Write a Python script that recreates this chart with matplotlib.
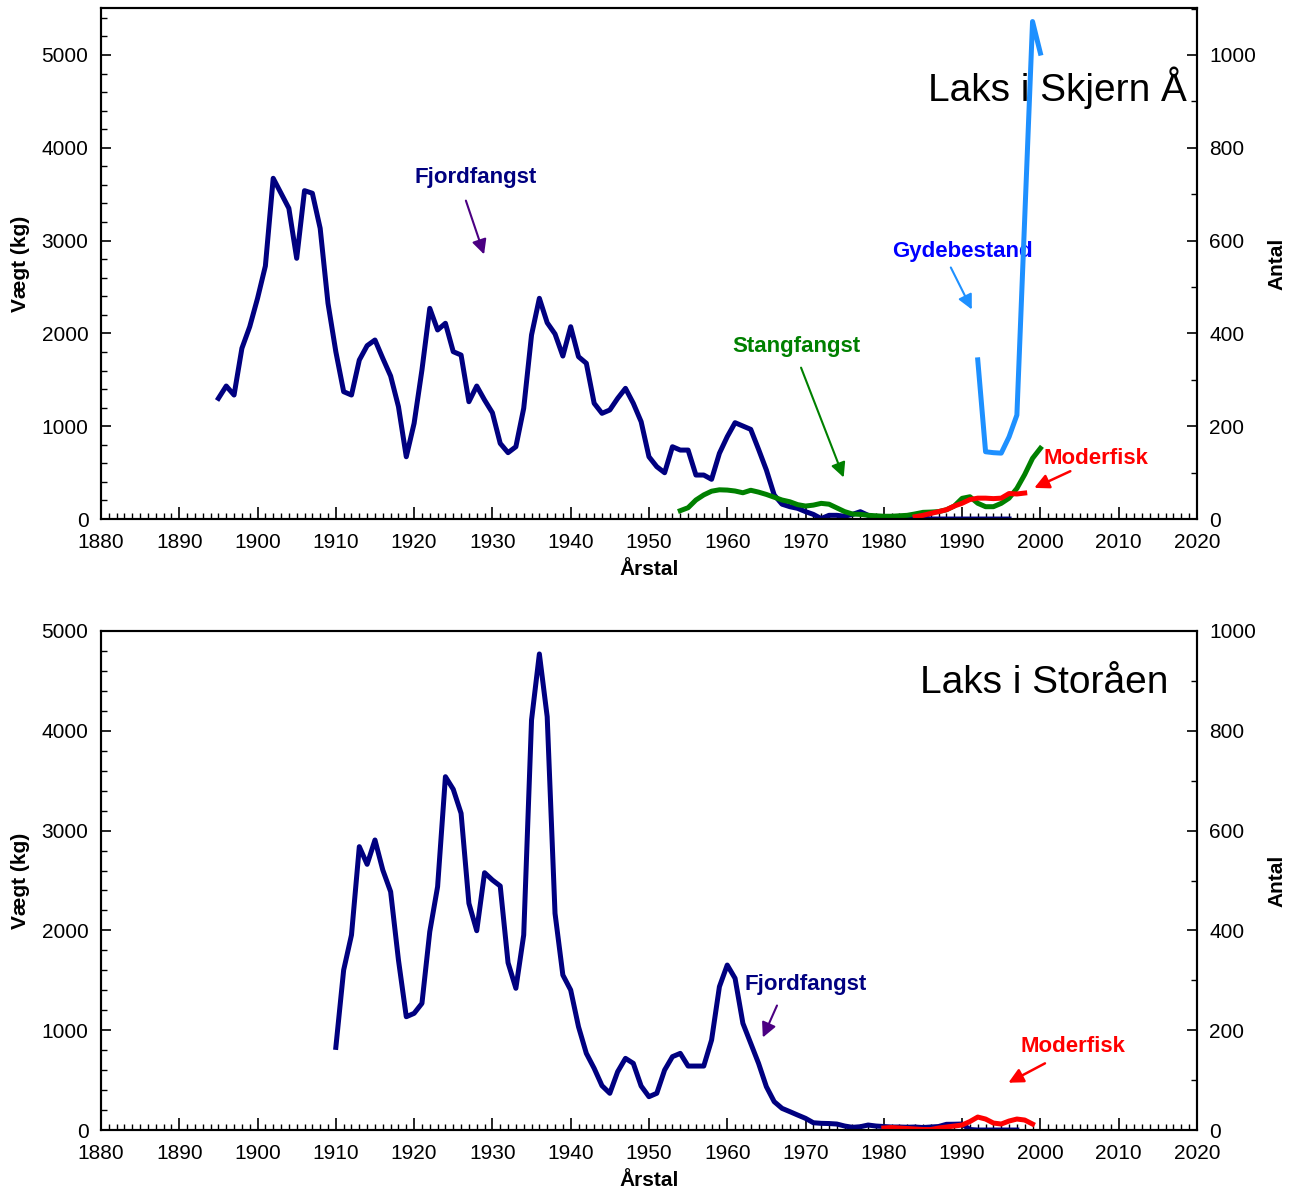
import numpy as np
import matplotlib
matplotlib.use("Agg")
import matplotlib.pyplot as plt
from matplotlib.ticker import MultipleLocator

plt.rcParams['font.family'] = ['Liberation Sans', 'DejaVu Sans']

# --- Skjern Å (top panel) ---
skj_fjord_years = list(range(1895, 1997))
skj_fjord_kg = [1300, 1433, 1336, 1839, 2072, 2378, 2726, 3671, 3510, 3348,
                2809, 3538, 3510, 3132, 2324, 1803, 1372, 1336, 1713, 1868,
                1929, 1731, 1541, 1211, 671, 1031, 1606, 2270, 2037, 2109,
                1803, 1767, 1264, 1433, 1282, 1145, 815, 715, 779, 1193,
                1983, 2378, 2115, 1994, 1756, 2072, 1749, 1678, 1247, 1139,
                1175, 1300, 1408, 1247, 1049, 671, 564, 499, 779, 743,
                743, 474, 474, 428, 708, 887, 1038, 1002, 966, 751,
                528, 259, 160, 133, 115, 80, 50, 5, 40, 40,
                30, 50, 79, 40, 20, 5, 5, 5, 25, 30,
                15, 0, 0, 0, 0, 0, 0, 0, 0, 0,
                0, 0]

skj_stang_years = list(range(1954, 2001))
skj_stang_kg = [90, 122, 205, 260, 300, 315, 312, 302, 283, 310,
                290, 265, 235, 205, 186, 155, 140, 150, 169, 160,
                120, 80, 54, 50, 40, 35, 30, 30, 35, 40,
                55, 72, 75, 80, 100, 140, 223, 240, 170, 133,
                133, 169, 225, 330, 480, 654, 762]

skj_gyde_years = [1992, 1993, 1994, 1995, 1996, 1997, 1998, 1999, 2000]
skj_gyde_antal = [343, 145, 143, 142, 177, 224, 648, 1072, 1004]

skj_moder_years = list(range(1984, 1999))
skj_moder_antal = [5, 8, 12, 16, 20, 28, 34, 42, 45, 45, 44, 45, 55, 54, 56]

# --- Storåen (bottom panel) ---
sto_fjord_years = list(range(1910, 1998))
sto_fjord_kg = [828, 1603, 1954, 2839, 2662, 2906, 2605, 2388, 1703, 1135,
                1169, 1269, 1987, 2438, 3540, 3414, 3173, 2271, 1997, 2578,
                2505, 2445, 1676, 1420, 1954, 4108, 4770, 4141, 2171, 1553,
                1403, 1035, 768, 618, 444, 368, 584, 718, 668, 441,
                334, 368, 601, 735, 768, 641, 641, 641, 902, 1436,
                1653, 1520, 1069, 869, 668, 434, 284, 217, 184, 150,
                117, 73, 67, 65, 60, 40, 27, 33, 50, 40,
                35, 30, 30, 28, 30, 25, 30, 35, 57, 58,
                60, 5, 0, 0, 0, 0, 0, 0]

sto_moder_years = list(range(1980, 2000))
sto_moder_antal = [4, 5, 4, 3, 2, 1, 1, 4, 6, 8,
                   10, 17, 26, 22, 14, 12, 18, 22, 20, 12]

NAVY = '#000080'
GREEN = '#008000'
LIGHTBLUE = '#1E90FF'
RED = '#FF0000'
INDIGO = '#4B0082'
LW = 3.6
FS = 15
AFS = 16  # annotation font size

fig = plt.figure(figsize=(13.03, 11.91), dpi=100)
ax_top = fig.add_axes([0.0775, 0.5642, 0.8411, 0.4291])
ax_bot = fig.add_axes([0.0775, 0.0512, 0.8411, 0.4190])


def style_axes(ax, ax2, ymax_kg, ymax_antal):
    ax.set_xlim(1880, 2020)
    ax.set_ylim(0, ymax_kg)
    ax2.set_ylim(0, ymax_antal)
    ax.xaxis.set_major_locator(MultipleLocator(10))
    ax.xaxis.set_minor_locator(MultipleLocator(1))
    ax.yaxis.set_major_locator(MultipleLocator(1000))
    ax.yaxis.set_minor_locator(MultipleLocator(200))
    ax2.yaxis.set_major_locator(MultipleLocator(200))
    ax2.yaxis.set_minor_locator(MultipleLocator(100))
    ax.tick_params(axis='x', which='major', direction='in', length=9, width=1.2,
                   labelsize=FS, pad=10, top=False)
    ax.tick_params(axis='x', which='minor', direction='in', length=4.5, width=1.0, top=False)
    ax.tick_params(axis='y', which='major', direction='in', length=7, width=1.2,
                   labelsize=FS, pad=9, right=False)
    ax.tick_params(axis='y', which='minor', direction='in', length=4.5, width=1.0, right=False)
    ax2.tick_params(axis='y', which='major', direction='in', length=7, width=1.2,
                    labelsize=FS, pad=9)
    ax2.tick_params(axis='y', which='minor', direction='in', length=4, width=1.0)
    for a in (ax, ax2):
        for s in a.spines.values():
            s.set_linewidth(1.5)
    ax.set_xlabel('Årstal', fontsize=FS, fontweight='bold', labelpad=6)
    ax.set_ylabel('Vægt (kg)', fontsize=FS, fontweight='bold', labelpad=8)
    ax2.set_ylabel('Antal', fontsize=FS, fontweight='bold', labelpad=8)


# top panel
ax2_top = ax_top.twinx()
ax_top.plot(skj_fjord_years, skj_fjord_kg, color=NAVY, lw=LW, solid_joinstyle='round')
ax_top.plot(skj_stang_years, skj_stang_kg, color=GREEN, lw=LW, solid_joinstyle='round')
ax2_top.plot(skj_gyde_years, skj_gyde_antal, color=LIGHTBLUE, lw=LW, solid_joinstyle='round')
ax2_top.plot(skj_moder_years, skj_moder_antal, color=RED, lw=LW, solid_joinstyle='round')
style_axes(ax_top, ax2_top, 5506, 1101.2)

ax_top.text(0.991, 0.843, 'Laks i Skjern Å', transform=ax_top.transAxes,
            ha='right', va='center', fontsize=28)
ax_top.text(1927.8, 3685, 'Fjordfangst', ha='center', va='center',
            fontsize=AFS, fontweight='bold', color=NAVY)
ax_top.annotate('', xy=(1929.05, 2823), xytext=(1926.5, 3459),
                arrowprops=dict(arrowstyle='-|>', color=INDIGO, lw=1.5, mutation_scale=22))
ax_top.text(1968.8, 1864, 'Stangfangst', ha='center', va='center',
            fontsize=AFS, fontweight='bold', color=GREEN)
ax_top.annotate('', xy=(1975.0, 420), xytext=(1969.3, 1659),
                arrowprops=dict(arrowstyle='-|>', color=GREEN, lw=1.5, mutation_scale=22))
ax_top.text(1990.0, 2877, 'Gydebestand', ha='center', va='center',
            fontsize=AFS, fontweight='bold', color='#0000FF')
ax_top.annotate('', xy=(1991.4, 2231), xytext=(1988.4, 2737),
                arrowprops=dict(arrowstyle='-|>', color=LIGHTBLUE, lw=1.5, mutation_scale=22))
ax_top.text(2000.45, 647, 'Moderfisk', ha='left', va='center',
            fontsize=AFS, fontweight='bold', color=RED)
ax_top.annotate('', xy=(1998.9, 323), xytext=(2004.15, 528),
                arrowprops=dict(arrowstyle='-|>', color=RED, lw=1.8, mutation_scale=22))

# bottom panel
ax2_bot = ax_bot.twinx()
ax_bot.plot(sto_fjord_years, sto_fjord_kg, color=NAVY, lw=LW, solid_joinstyle='round')
ax2_bot.plot(sto_moder_years, sto_moder_antal, color=RED, lw=LW, solid_joinstyle='round')
style_axes(ax_bot, ax2_bot, 5000, 1000)

ax_bot.text(0.9735, 0.896, 'Laks i Storåen', transform=ax_bot.transAxes,
            ha='right', va='center', fontsize=28)
ax_bot.text(1962.26, 1463, 'Fjordfangst', ha='left', va='center',
            fontsize=AFS, fontweight='bold', color=NAVY)
ax_bot.annotate('', xy=(1964.4, 902), xytext=(1966.5, 1273),
                arrowprops=dict(arrowstyle='-|>', color=INDIGO, lw=1.5, mutation_scale=22))
ax_bot.text(2004.15, 832, 'Moderfisk', ha='center', va='center',
            fontsize=AFS, fontweight='bold', color=RED)
ax_bot.annotate('', xy=(1995.6, 461), xytext=(2000.9, 681),
                arrowprops=dict(arrowstyle='-|>', color=RED, lw=1.8, mutation_scale=22))

fig.savefig('out.png', dpi=100)
